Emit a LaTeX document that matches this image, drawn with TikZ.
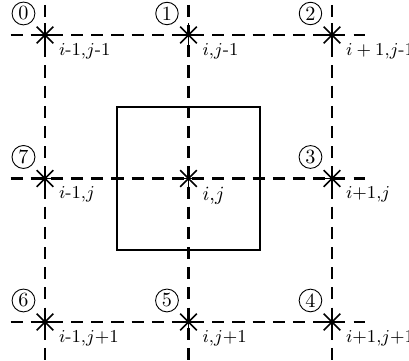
\documentclass[tikz,border=0pt]{standalone}
\usepackage{tikz}
\usetikzlibrary{positioning}

\begin{document}
\begin{tikzpicture}[x=2.5cm, y=2.5cm,
    gridline/.style={dash pattern=on 6pt off 4pt, line width=1pt},
    starline/.style={line width=0.8pt},
    cellbox/.style={draw, line width=0.9pt, minimum size=2.5cm, inner sep=0pt},
    numcirc/.style={circle, draw, line width=0.45pt, inner sep=1pt, font=\normalsize},
    idxlabel/.style={anchor=north west, inner sep=0pt, font=\small}]
  \useasboundingbox (-0.3136,-0.265) rectangle (2.5366,2.244);
  % dashed grid lines
  \foreach \k in {0,1,2} {
    \coordinate (hl\k) at (-0.24,\k);
    \coordinate (hr\k) at (2.23,\k);
    \coordinate (vt\k) at (\k,2.35);
    \coordinate (vb\k) at (\k,-0.35);
    \draw[gridline] (hl\k) -- (hr\k);
    \draw[gridline] (vt\k) -- (vb\k);
  }
  % the cell round (i,j)
  \node[cellbox] (cell) at (1,1) {};
  % neighbour points 0..7
  \foreach \n/\x/\y/\lab in {0/0/2/{$i$-1,$j$-1}, 1/1/2/{$i$,$j$-1},
      2/2/2/{$i + 1$,$j$-1}, 3/2/1/{$i{+}1$,$j$}, 4/2/0/{$i{+}1$,$j{+}1$},
      5/1/0/{$i$,$j{+}1$}, 6/0/0/{$i$-1,$j{+}1$}, 7/0/1/{$i$-1,$j$}} {
    \coordinate (p\n) at (\x,\y);
    \foreach \a in {0,45,90,135}
      \draw[starline] ([shift={(\a:0.082)}]p\n) -- ([shift={(\a+180:0.082)}]p\n);
    \node[numcirc] (c\n) at ([shift={(-0.15,0.15)}]p\n) {\n};
    \node[idxlabel] (l\n) at ([shift={(0.095,-0.055)}]p\n) {\lab};
  }
  % centre point
  \coordinate (pc) at (1,1);
  \foreach \a in {0,45,90,135}
    \draw[starline] ([shift={(\a:0.082)}]pc) -- ([shift={(\a+180:0.082)}]pc);
  \node[idxlabel, font=\normalsize] (lc) at ([shift={(0.095,-0.055)}]pc) {$i$,$j$};
\end{tikzpicture}
\end{document}
